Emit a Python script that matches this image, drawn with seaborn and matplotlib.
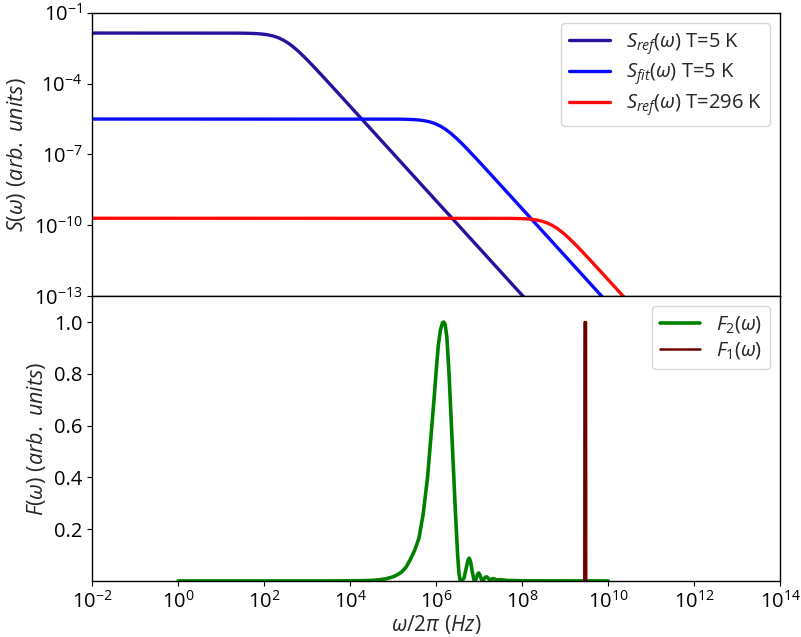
import numpy as np
import pandas as pd
import seaborn as sns
import matplotlib
matplotlib.use("Agg")
from matplotlib import pyplot as plt
from matplotlib import ticker

# top panel: noise spectra as (log10 f, log10 S)
s_ref5_logf = [-2, 1.45, 1.575, 1.7, 1.825, 1.95, 2.075, 2.2, 2.325, 2.45, 2.575, 2.7, 2.825,
               2.95, 3.075, 3.2, 3.325, 3.45, 3.7, 3.95, 8.5]
s_ref5_logs = [-1.86, -1.864, -1.868, -1.874, -1.884, -1.901, -1.931, -1.979, -2.054, -2.161, -2.304,
               -2.479, -2.681, -2.901, -3.134, -3.374, -3.618, -3.864, -4.361, -4.86, -13.96]

s_fit5_logf = [-2, 5.1, 5.225, 5.35, 5.475, 5.6, 5.725, 5.85, 5.975, 6.1, 6.225, 6.35, 6.475,
               6.6, 6.725, 6.85, 6.975, 7.1, 7.35, 7.6, 10.5]
s_fit5_logs = [-5.5, -5.504, -5.508, -5.514, -5.524, -5.541, -5.571, -5.619, -5.694, -5.801, -5.944,
               -6.119, -6.321, -6.541, -6.774, -7.014, -7.258, -7.504, -8.001, -8.5, -14.3]

s_ref296_logf = [-2, 7.7, 7.825, 7.95, 8.075, 8.2, 8.325, 8.45, 8.575, 8.7, 8.825, 8.95, 9.075,
                 9.2, 9.325, 9.45, 9.575, 9.7, 9.95, 10.2, 11.0]
s_ref296_logs = [-9.7, -9.704, -9.708, -9.714, -9.724, -9.741, -9.771, -9.819, -9.894, -10.001, -10.144,
                 -10.319, -10.521, -10.741, -10.974, -11.214, -11.458, -11.704, -12.201, -12.7, -14.3]

# bottom panel: filter functions (log10 f, value)
f2_logf = [0.0, 3.5, 4.0, 4.3, 4.5, 4.7, 4.85, 5.0, 5.1, 5.2, 5.3, 5.4, 5.5, 5.6, 5.7, 5.8, 5.9,
           5.95, 6.0, 6.05, 6.1, 6.15, 6.18, 6.21, 6.25, 6.3, 6.35, 6.4, 6.45, 6.5, 6.53, 6.56,
           6.6, 6.65, 6.7, 6.74, 6.77, 6.8, 6.84, 6.88, 6.92, 6.96, 6.99, 7.02, 7.06, 7.1, 7.14,
           7.18, 7.22, 7.26, 7.3, 7.34, 7.4, 7.5, 7.65, 8.0, 10.0]
f2_vals = [0.0, 0.0, 0.0005, 0.001, 0.002, 0.005, 0.009, 0.016, 0.024, 0.035, 0.053, 0.083, 0.118,
           0.165, 0.26, 0.40, 0.60, 0.70, 0.81, 0.91, 0.97, 0.998, 1.0, 0.99, 0.94, 0.80, 0.62,
           0.44, 0.26, 0.10, 0.03, 0.0, 0.0, 0.012, 0.05, 0.08, 0.088, 0.075, 0.035, 0.004, 0.005,
           0.025, 0.031, 0.022, 0.004, 0.004, 0.014, 0.016, 0.008, 0.003, 0.008, 0.009, 0.004,
           0.005, 0.002, 0.0005, 0.0]

f1_logf = [9.445, 9.45, 9.485, 9.49]
f1_vals = [0.0, 1.0, 1.0, 0.0]

labels_top = [r"$S_{ref}(\omega)$ T=5 K", r"$S_{fit}(\omega)$ T=5 K", r"$S_{ref}(\omega)$ T=296 K"]
colors_top = ["#2b109e", "#0a0aff", "#ff0a0a"]

sns.set_style("ticks")
plt.rcParams["font.family"] = ["Open Sans", "DejaVu Sans"]
plt.rcParams["mathtext.fontset"] = "custom"
plt.rcParams["mathtext.rm"] = "Open Sans"
plt.rcParams["mathtext.it"] = "Open Sans:italic"
plt.rcParams["mathtext.bf"] = "Open Sans:bold"
plt.rcParams["xtick.major.size"] = 3.5
plt.rcParams["ytick.major.size"] = 3.5
plt.rcParams["axes.edgecolor"] = "black"
plt.rcParams["xtick.color"] = "black"
plt.rcParams["ytick.color"] = "black"

fig = plt.figure(figsize=(8.01, 6.37), dpi=100)
ax1 = fig.add_axes([0.115, 0.535, 0.859, 0.445])
ax2 = fig.add_axes([0.115, 0.088, 0.859, 0.447], sharex=ax1)

top_series = [(s_ref5_logf, s_ref5_logs), (s_fit5_logf, s_fit5_logs), (s_ref296_logf, s_ref296_logs)]
for (lf, ls), lab, col in zip(top_series, labels_top, colors_top):
    df = pd.DataFrame({"f": np.power(10.0, lf), "S": np.power(10.0, ls)})
    sns.lineplot(data=df, x="f", y="S", ax=ax1, color=col, lw=2.4, label=lab, estimator=None)

df2 = pd.DataFrame({"f": np.power(10.0, f2_logf), "F": f2_vals})
df1 = pd.DataFrame({"f": np.power(10.0, f1_logf), "F": f1_vals})
sns.lineplot(data=df2, x="f", y="F", ax=ax2, color="green", lw=2.6, label=r"$F_2(\omega)$", estimator=None)
sns.lineplot(data=df1, x="f", y="F", ax=ax2, color="#6e0000", lw=1.8, label=r"$F_1(\omega)$", estimator=None)

ax1.set_xscale("log")
ax1.set_yscale("log")
ax1.set_xlim(1e-2, 1e14)
ax1.set_ylim(1e-13, 1e-1)
ax1.set_yticks([1e-13, 1e-10, 1e-7, 1e-4, 1e-1])
ax1.yaxis.set_minor_locator(ticker.NullLocator())
ax1.tick_params(axis="x", which="both", length=0, labelbottom=False)
ax1.tick_params(axis="y", labelsize=14.5)
ax1.set_xlabel("")
ax1.set_ylabel(r"$S(\omega)\ (arb.\ units)$", fontsize=15.5)

ax2.set_ylim(0, 1.1)
ax2.set_yticks([0.2, 0.4, 0.6, 0.8, 1.0])
ax2.set_xticks([10.0 ** k for k in range(-2, 15, 2)])
ax2.xaxis.set_minor_locator(ticker.NullLocator())
ax2.tick_params(labelsize=14.5)
ax2.set_xlabel(r"$\omega/2\pi\ (Hz)$", fontsize=15, labelpad=0)
ax2.set_ylabel(r"$F(\omega)\ (arb.\ units)$", fontsize=15.5)

for ax in (ax1, ax2):
    for sp in ax.spines.values():
        sp.set_visible(True)
        sp.set_linewidth(1.0)

leg_kw = dict(loc="upper right", fontsize=14.5, frameon=True, framealpha=0.8, edgecolor="0.8",
              fancybox=True, labelspacing=0.25, handlelength=2.0)
ax1.legend(**leg_kw)
ax2.legend(**leg_kw)

fig.savefig("out.png", dpi=100)
